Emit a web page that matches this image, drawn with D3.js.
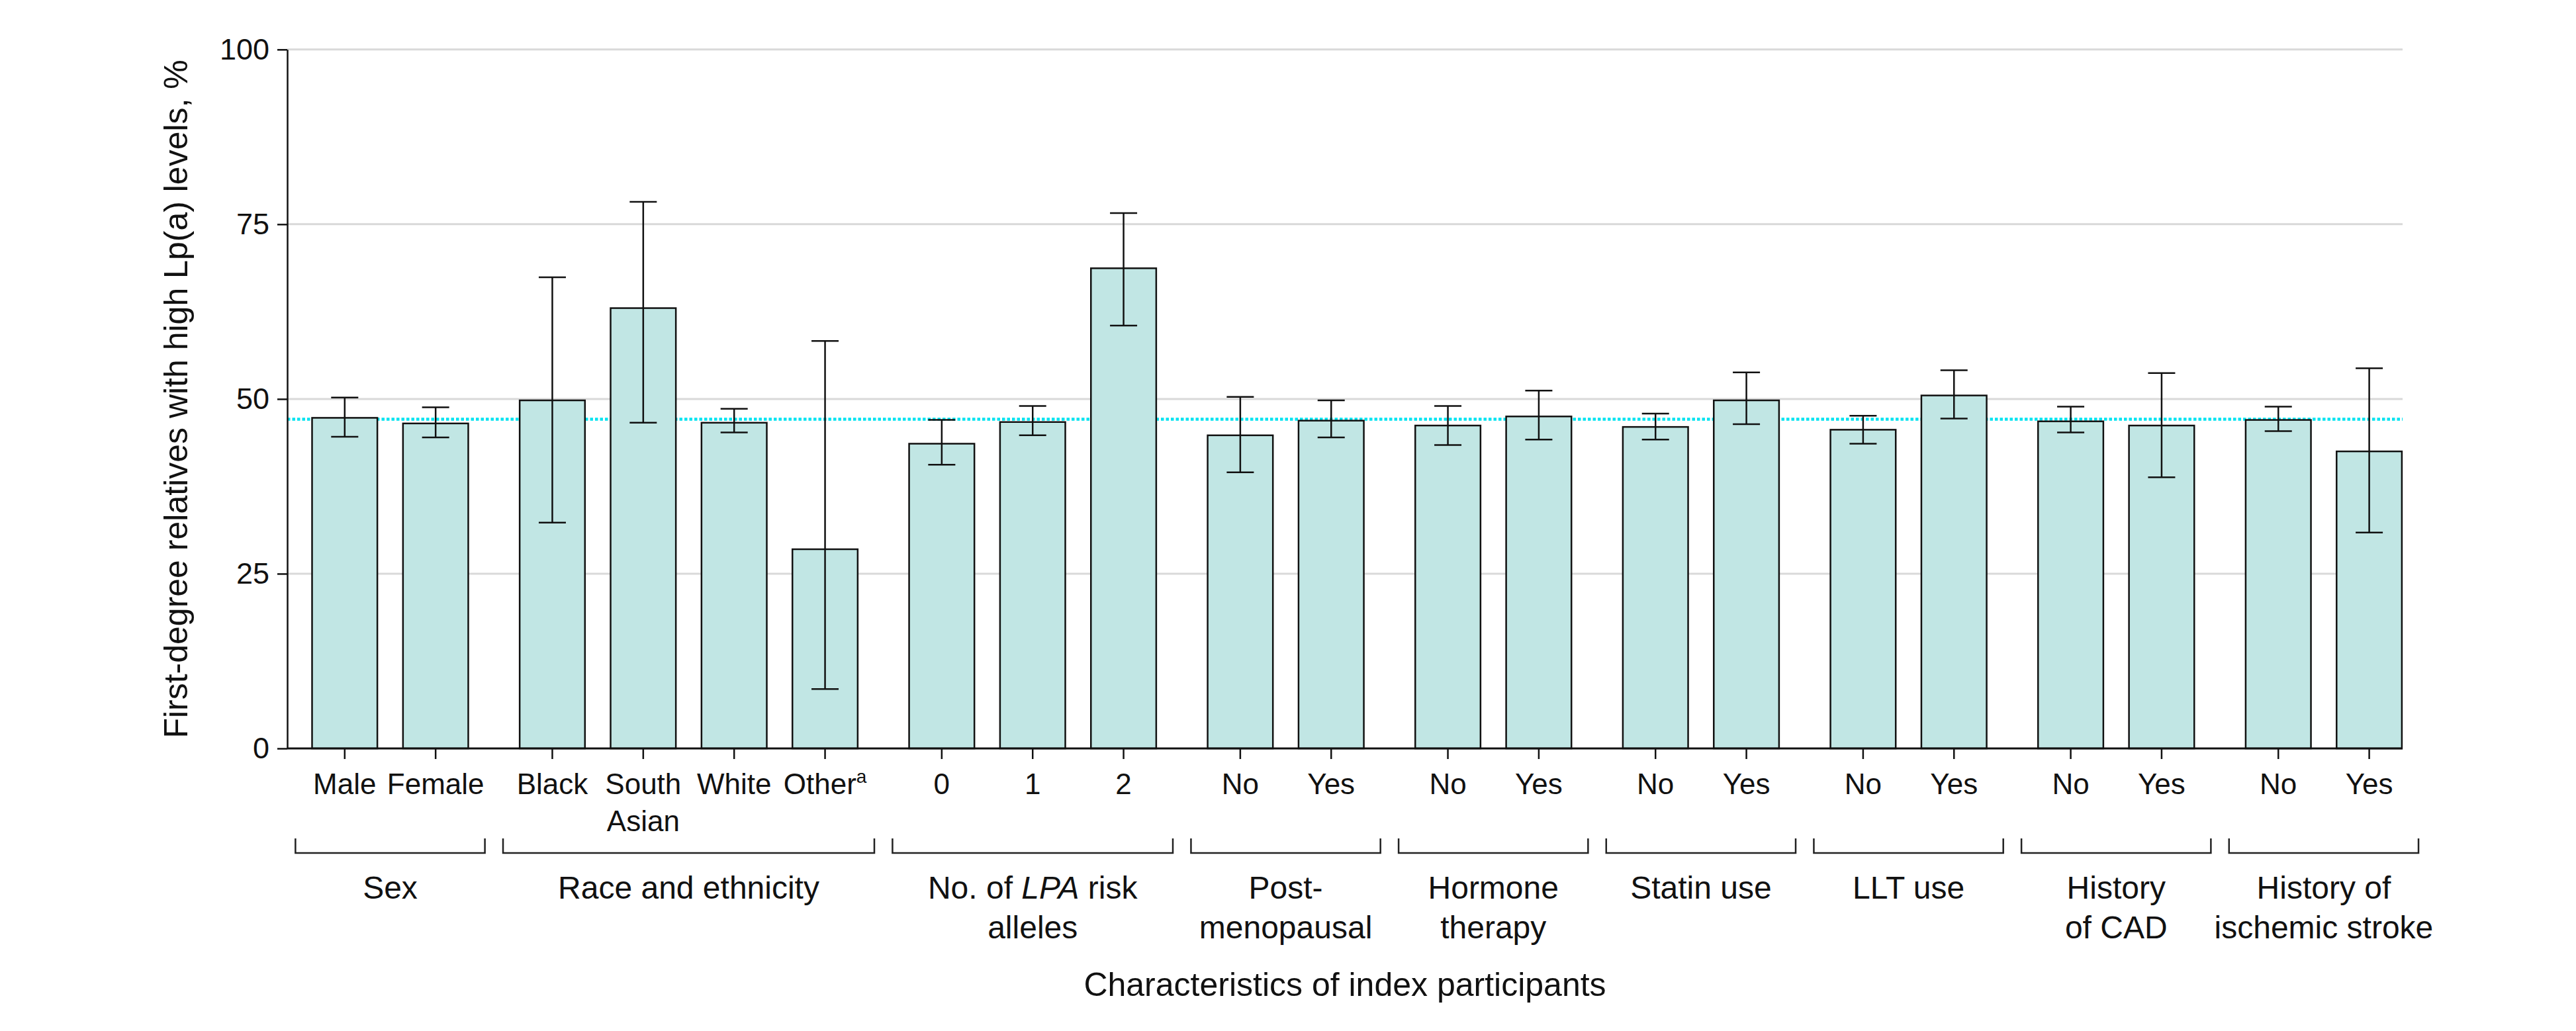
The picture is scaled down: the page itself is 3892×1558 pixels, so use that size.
<!DOCTYPE html>
<html>
<head>
<meta charset="utf-8">
<script src="https://cdn.jsdelivr.net/npm/d3@7"></script>
<style>
  body { margin: 0; background: #fff; }
  svg { display: block; }
  text { font-family: "Liberation Sans", Arial, sans-serif; fill: #111; }
</style>
</head>
<body>
<svg id="chart" width="3892" height="1558"></svg>
<script>
// ---------------- DATA ----------------
const categories = ["Male", "Female", "Black", "South Asian", "White", "Other",
  "0", "1", "2", "No", "Yes", "No", "Yes", "No", "Yes", "No", "Yes", "No", "Yes", "No", "Yes"];
const categoryLines = [["Male"], ["Female"], ["Black"], ["South", "Asian"], ["White"], ["Other"],
  ["0"], ["1"], ["2"], ["No"], ["Yes"], ["No"], ["Yes"], ["No"], ["Yes"], ["No"], ["Yes"], ["No"], ["Yes"], ["No"], ["Yes"]];
const categoryFootnote = ["", "", "", "", "", "a", "", "", "", "", "", "", "", "", "", "", "", "", "", "", ""];
const groupOf = [0, 0, 1, 1, 1, 1, 2, 2, 2, 3, 3, 4, 4, 5, 5, 6, 6, 7, 7, 8, 8];
const groupNames = ["Sex", "Race and ethnicity", "No. of LPA risk alleles", "Post-menopausal",
  "Hormone therapy", "Statin use", "LLT use", "History of CAD", "History of ischemic stroke"];
// line breaks as in the figure; *...* marks italics
const groupLines = [["Sex"], ["Race and ethnicity"], ["No. of *LPA* risk", "alleles"], ["Post-", "menopausal"],
  ["Hormone", "therapy"], ["Statin use"], ["LLT use"], ["History", "of CAD"], ["History of", "ischemic stroke"]];
const values = [47.3, 46.5, 49.8, 63.0, 46.6, 28.5, 43.6, 46.7, 68.7, 44.8, 46.9, 46.2, 47.5, 46.0, 49.8, 45.6, 50.5, 46.8, 46.2, 47.0, 42.5];
const lower  = [44.6, 44.5, 32.3, 46.6, 45.2, 8.5, 40.6, 44.8, 60.5, 39.5, 44.5, 43.4, 44.2, 44.2, 46.4, 43.6, 47.2, 45.2, 38.8, 45.4, 30.9];
const upper  = [50.2, 48.8, 67.4, 78.2, 48.6, 58.3, 47.0, 49.0, 76.6, 50.3, 49.8, 49.0, 51.2, 47.9, 53.8, 47.6, 54.1, 48.9, 53.7, 48.9, 54.4];
const referenceValue = 47.1;
const yTicks = [0, 25, 50, 75, 100];
const yTitle = "First-degree relatives with high Lp(a) levels, %";
const xTitle = "Characteristics of index participants";

// ---------------- LAYOUT ----------------
const W = 3892, H = 1558;
const L = 434, R = 3630, T = 74.8, B = 1131;
const GAP = 0.2836;          // extra spacing between groups, in bar slots
const BAR = 0.718;           // bar width, in bar slots
const BRACKET = 0.542;       // bracket overhang from outer bar centres, in slots
const slot = i => i + groupOf[i] * GAP;
const n = categories.length;

const svg = d3.select("#chart");
svg.append("rect").attr("width", W).attr("height", H).attr("fill", "#fff");

const x = d3.scaleLinear().domain([-0.632, slot(n - 1) + 0.367]).range([L, R]);
const y = d3.scaleLinear().domain([0, 100]).range([B, T]);
const bw = x(BAR) - x(0);
const idx = d3.range(n);

// gridlines
svg.append("g").selectAll("line").data(yTicks.filter(d => d > 0)).join("line")
  .attr("x1", L).attr("x2", R)
  .attr("y1", d => y(d)).attr("y2", d => y(d))
  .attr("stroke", "#d9d9d9").attr("stroke-width", 3);

// reference (overall) line
svg.append("line")
  .attr("x1", L).attr("x2", R)
  .attr("y1", y(referenceValue)).attr("y2", y(referenceValue))
  .attr("stroke", "#00e3f0").attr("stroke-width", 4.5)
  .attr("stroke-dasharray", "4.5 3");

// bars
svg.append("g").selectAll("rect").data(idx).join("rect")
  .attr("x", i => x(slot(i)) - bw / 2)
  .attr("y", i => y(values[i]))
  .attr("width", bw)
  .attr("height", i => y(0) - y(values[i]))
  .attr("fill", "#c1e6e4")
  .attr("stroke", "#111").attr("stroke-width", 2.5);

// error bars
const eb = svg.append("g").attr("stroke", "#111").attr("stroke-width", 2.5);
const capW = 41;
eb.selectAll("line.v").data(idx).join("line").attr("class", "v")
  .attr("x1", i => x(slot(i))).attr("x2", i => x(slot(i)))
  .attr("y1", i => y(lower[i])).attr("y2", i => y(upper[i]));
eb.selectAll("line.u").data(idx).join("line").attr("class", "u")
  .attr("x1", i => x(slot(i)) - capW / 2).attr("x2", i => x(slot(i)) + capW / 2)
  .attr("y1", i => y(upper[i])).attr("y2", i => y(upper[i]));
eb.selectAll("line.l").data(idx).join("line").attr("class", "l")
  .attr("x1", i => x(slot(i)) - capW / 2).attr("x2", i => x(slot(i)) + capW / 2)
  .attr("y1", i => y(lower[i])).attr("y2", i => y(lower[i]));

// y axis
const yAxis = d3.axisLeft(y).tickValues(yTicks).tickSize(15).tickPadding(12).tickSizeOuter(0);
const gy = svg.append("g").attr("transform", `translate(${L},0)`).call(yAxis);
gy.select(".domain").attr("stroke", "#111").attr("stroke-width", 2.5);
gy.selectAll(".tick line").attr("stroke", "#111").attr("stroke-width", 2.5);
gy.selectAll(".tick text").attr("font-size", 45).attr("fill", "#111")
  .style("font-family", '"Liberation Sans", Arial, sans-serif');

// x axis line and ticks
svg.append("line").attr("x1", L).attr("x2", R).attr("y1", B).attr("y2", B)
  .attr("stroke", "#111").attr("stroke-width", 3);
svg.append("g").selectAll("line").data(idx).join("line")
  .attr("x1", i => x(slot(i))).attr("x2", i => x(slot(i)))
  .attr("y1", B).attr("y2", B + 16)
  .attr("stroke", "#111").attr("stroke-width", 2.5);

// category labels
const tl = svg.append("g").selectAll("text").data(idx).join("text")
  .attr("text-anchor", "middle").attr("font-size", 44)
  .attr("x", i => x(slot(i))).attr("y", 1200);
tl.each(function (i) {
  const t = d3.select(this);
  categoryLines[i].forEach((ln, k) => {
    const sp = t.append("tspan").attr("x", x(slot(i))).attr("dy", k === 0 ? 0 : 56).text(ln);
    if (k === categoryLines[i].length - 1 && categoryFootnote[i]) {
      t.append("tspan").attr("font-size", 28).attr("dy", -17).text(categoryFootnote[i]);
    }
  });
});

// group brackets and labels
const groups = d3.range(groupNames.length).map(g => {
  const m = idx.filter(i => groupOf[i] === g);
  return { g, x1: x(slot(m[0]) - BRACKET), x2: x(slot(m[m.length - 1]) + BRACKET) };
});
svg.append("g").selectAll("path").data(groups).join("path")
  .attr("d", d => `M${d.x1},1267V1289H${d.x2}V1267`)
  .attr("fill", "none").attr("stroke", "#222").attr("stroke-width", 2.5);

const gl = svg.append("g").selectAll("text").data(groups).join("text")
  .attr("text-anchor", "middle").attr("font-size", 48)
  .attr("x", d => (d.x1 + d.x2) / 2).attr("y", 1358);
gl.each(function (d) {
  const t = d3.select(this);
  const cx = (d.x1 + d.x2) / 2;
  groupLines[d.g].forEach((ln, k) => {
    const parts = ln.split("*");
    parts.forEach((p, j) => {
      if (!p) return;
      const sp = t.append("tspan").text(p);
      if (j === 0) sp.attr("x", cx).attr("dy", k === 0 ? 0 : 60);
      if (j % 2 === 1) sp.attr("font-style", "italic");
    });
    if (parts[0] === "") {
      // line starting with italics: position first tspan
      t.selectAll("tspan").filter((_, q, nodes) => false);
    }
  });
});

// axis titles
svg.append("text").attr("text-anchor", "middle").attr("font-size", 50)
  .attr("x", (L + R) / 2).attr("y", 1505).text(xTitle);
svg.append("text").attr("text-anchor", "middle").attr("font-size", 50)
  .attr("transform", `translate(283,${(T + B) / 2}) rotate(-90)`).text(yTitle);
</script>
</body>
</html>
